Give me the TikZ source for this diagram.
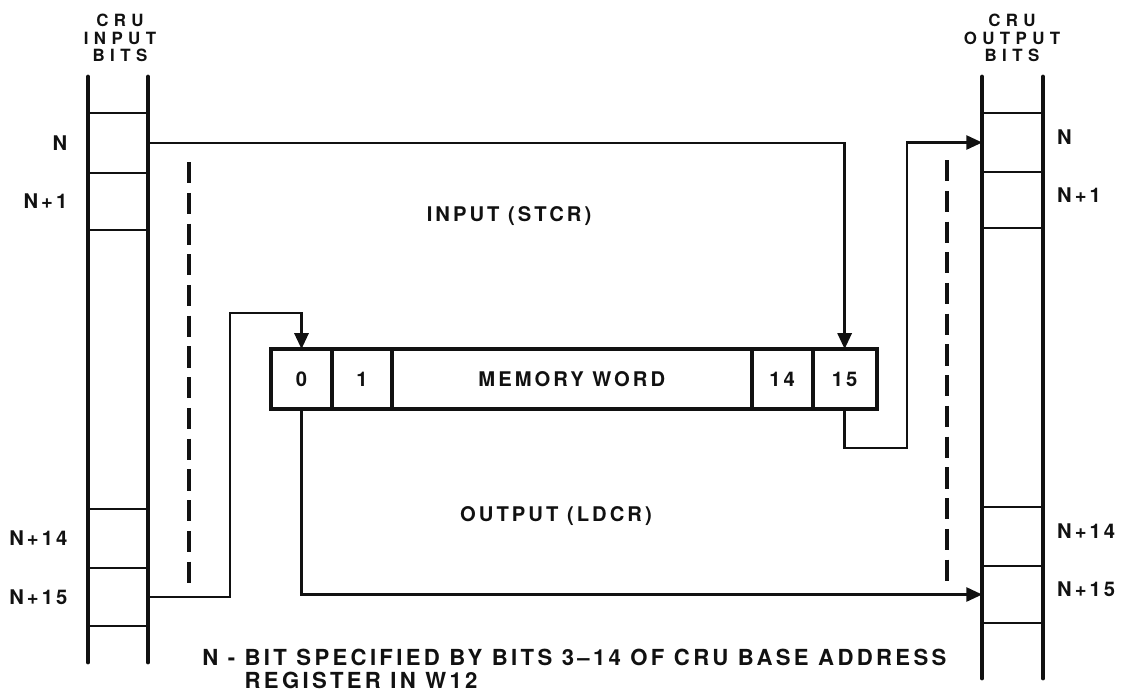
\documentclass[tikz,border=0pt]{standalone}
\usepackage{fontspec}
\usepackage{tikz}
\usetikzlibrary{positioning,arrows.meta}
\newfontfamily\crufont{TeX Gyre Heros}[LetterSpace=15]
\newfontfamily\cruwide{TeX Gyre Heros}[LetterSpace=32]
\newcommand{\crulbl}{\crufont\bfseries\fontsize{11.5}{12}\selectfont}
\newcommand{\cruhead}{\cruwide\bfseries\fontsize{9.6}{10}\selectfont}
\newcommand{\crunote}{\crufont\bfseries\fontsize{12.6}{12.8}\selectfont}
\definecolor{ink}{HTML}{111111}

\begin{document}
\begin{tikzpicture}[x=0.02cm,y=-0.02cm,ink,
  rail/.style={line width=2.8pt,line cap=round},
  rung/.style={line width=1.4pt},
  wire/.style={line width=1.4pt},
  arr/.style={wire,-{Triangle[length=9pt,width=8pt]}},
  guide/.style={line width=2pt,dash pattern=on 12pt off 5.5pt},
  cell/.style={minimum width=1.2cm,minimum height=1.16cm,inner sep=0pt},
  bit/.style={draw,line width=1.1pt,minimum height=1.16cm,inner sep=0pt,font=\crulbl},
  lab/.style={font=\crulbl,inner sep=0pt}]
\useasboundingbox (0,0) rectangle (1135,691);
% register ladders
\foreach \x in {88,148} \draw[rail] (\x,77) -- (\x,662);
\foreach \x in {982,1043} \draw[rail] (\x,77) -- (\x,678);
\foreach \y in {113,173,230,509,568,626} \draw[rung] (88,\y) -- (148,\y);
\foreach \y in {113,172,228,507,566,623} \draw[rung] (982,\y) -- (1043,\y);
\foreach \nm/\y in {inN/143,inNa/201.5,inNn/538.5,inNp/597} \node[cell] (\nm) at (118,\y) {};
\foreach \nm/\y in {outN/142.5,outNa/200,outNn/536.5,outNp/594.5} \node[cell] (\nm) at (1012.5,\y) {};
\node[lab,font=\cruhead,align=center] (inhd) at (120,38) {CRU\\INPUT\\BITS};
\node[lab,font=\cruhead,align=center] (outhd) at (1012,38) {CRU\\OUTPUT\\BITS};
\foreach \nm/\tx in {inN/N,inNa/N+1,inNn/N+14,inNp/N+15}
  \node[lab,left=0.4cm of \nm] (l\nm) {\tx};
\foreach \nm/\tx in {outN/N,outNa/N+1,outNn/N+14,outNp/N+15}
  \node[lab,right=0.28cm of \nm,yshift=3pt] (l\nm) {\tx};
% memory word
\node[bit,minimum width=1.18cm] (b0) at (301.5,379) {0};
\node[bit,minimum width=1.16cm,right=0pt of b0] (b1) {1};
\node[bit,minimum width=7.16cm,right=0pt of b1] (bw) {MEMORY WORD};
\node[bit,minimum width=1.18cm,right=0pt of bw] (b14) {14};
\node[bit,minimum width=1.24cm,right=0pt of b14] (b15) {15};
\draw[line width=2.2pt] (b0.north west) rectangle (b15.south east);
% transfers
\coordinate (lt) at (230,313);
\coordinate (rt) at (907,448);
\draw[arr] (inN.east) -| (b15.north);
\draw[arr] (inNp.east) -| (lt) -| (b0.north);
\draw[arr] (b0.south) |- (outNp.west);
\draw[arr] (b15.south) |- (rt) |- (outN.west);
\draw[guide] (189,162) -- (189,588);
\draw[guide] (947,160) -- (947,585);
\node[lab] (inlbl) at (509,216) {INPUT (STCR)};
\node[lab] (outlbl) at (556,516) {OUTPUT (LDCR)};
\node[lab,font=\crunote,anchor=west,align=left] (note) at (202,669) {N - BIT SPECIFIED BY BITS 3\textendash14 OF CRU BASE ADDRESS\\\phantom{N - }REGISTER IN W12};
\end{tikzpicture}
\end{document}
